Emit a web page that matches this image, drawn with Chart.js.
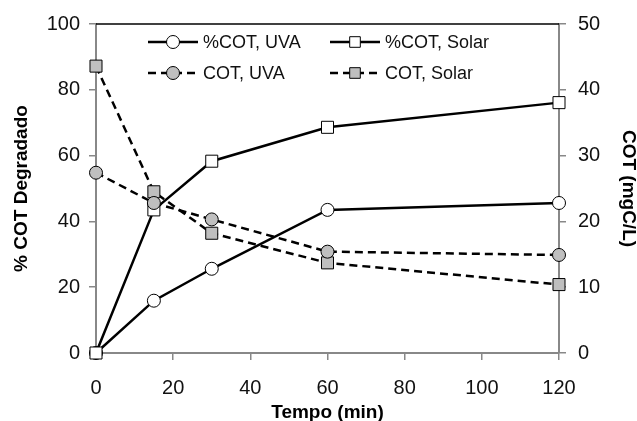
<!DOCTYPE html>
<html>
<head>
<meta charset="utf-8">
<title>COT Degradado</title>
<script src="https://cdn.jsdelivr.net/npm/chart.js@4.4.1/dist/chart.umd.min.js"></script>
<style>
  html, body { margin: 0; padding: 0; background: #fff; }
  #wrap { width: 637px; height: 421px; }
</style>
</head>
<body>
<div id="wrap"><canvas id="cotChart" width="637" height="421"></canvas></div>
<script>
// Data
const tempo = [0, 15, 30, 60, 120];
const pctCotUva = [0, 15.9, 25.6, 43.5, 45.6];
const pctCotSolar = [0, 43.5, 58.3, 68.6, 76.1];
const cotUva = [27.4, 22.8, 20.3, 15.4, 14.9];
const cotSolar = [43.6, 24.5, 18.2, 13.7, 10.4];

const xTicks = [0, 20, 40, 60, 80, 100, 120];
const leftTicks = [0, 20, 40, 60, 80, 100];
const rightTicks = [0, 10, 20, 30, 40, 50];

const FONT = "'Liberation Sans', Arial, sans-serif";
const AXIS_GRAY = '#888888';
const MARK_GRAY = '#bfbfbf';

function toPoints(values) {
    return tempo.map((t, i) => ({ x: t, y: values[i] }));
}

function makeDataset(label, values, axis, dashed, style, fill, order) {
    return {
        label: label,
        data: toPoints(values),
        yAxisID: axis,
        borderColor: '#000',
        borderWidth: 2.5,
        borderDash: dashed ? [8, 5] : [],
        pointStyle: style,
        pointRadius: style === 'rect' ? 8.5 : 6.5,
        pointBackgroundColor: fill,
        pointBorderColor: '#000',
        pointBorderWidth: 1,
        tension: 0,
        fill: false,
        clip: false,
        order: order
    };
}

// Top border of the plot area
const topBorder = {
    id: 'topBorder',
    beforeDatasetsDraw(chart) {
        const { ctx, chartArea } = chart;
        ctx.save();
        ctx.strokeStyle = '#000';
        ctx.lineWidth = 1.5;
        ctx.beginPath();
        ctx.moveTo(chartArea.left, chartArea.top);
        ctx.lineTo(chartArea.right, chartArea.top);
        ctx.stroke();
        ctx.restore();
    }
};

// Legend drawn as line + marker, 2 columns
const lineLegend = {
    id: 'lineLegend',
    afterDraw(chart) {
        const ctx = chart.ctx;
        const cols = [148, 330];
        const rows = [42, 73];
        const lineLen = 50;
        chart.data.datasets.forEach((ds, i) => {
            const x0 = cols[i % 2];
            const y = rows[Math.floor(i / 2)];
            ctx.save();
            ctx.strokeStyle = ds.borderColor;
            ctx.lineWidth = ds.borderWidth;
            ctx.setLineDash(ds.borderDash);
            ctx.beginPath();
            ctx.moveTo(x0, y);
            ctx.lineTo(x0 + lineLen, y);
            ctx.stroke();
            ctx.setLineDash([]);
            ctx.fillStyle = ds.pointBackgroundColor;
            ctx.strokeStyle = ds.pointBorderColor;
            ctx.lineWidth = 1;
            Chart.helpers.drawPoint(ctx, {
                pointStyle: ds.pointStyle,
                radius: ds.pointStyle === 'rect' ? 7.5 : 6.5,
                borderWidth: 1,
                rotation: 0
            }, x0 + lineLen / 2, y);
            ctx.fillStyle = '#111';
            ctx.font = '18px ' + FONT;
            ctx.textBaseline = 'middle';
            ctx.textAlign = 'left';
            ctx.fillText(ds.label, x0 + lineLen + 5, y + 1);
            ctx.restore();
        });
    }
};

const datasets = [
    makeDataset('%COT, UVA', pctCotUva, 'y', false, 'circle', '#fff', 3),
    makeDataset('%COT, Solar', pctCotSolar, 'y', false, 'rect', '#fff', 2),
    makeDataset('COT, UVA', cotUva, 'y1', true, 'circle', MARK_GRAY, 0),
    makeDataset('COT, Solar', cotSolar, 'y1', true, 'rect', MARK_GRAY, 1)
];

const tickFont = { family: FONT, size: 20 };
const titleFont = { family: FONT, size: 19, weight: 'bold' };

new Chart(document.getElementById('cotChart'), {
    type: 'line',
    data: { datasets: datasets },
    options: {
        responsive: false,
        animation: false,
        events: [],
        layout: { padding: { top: 22, left: 0, right: 0, bottom: 0 } },
        plugins: {
            legend: { display: false },
            tooltip: { enabled: false }
        },
        scales: {
            x: {
                type: 'linear',
                min: xTicks[0],
                max: xTicks[xTicks.length - 1],
                afterBuildTicks: (scale) => { scale.ticks = xTicks.map(v => ({ value: v })); },
                afterFit: (scale) => { scale.height = 68; },
                ticks: { font: tickFont, color: '#111', padding: 16, maxRotation: 0 },
                grid: { drawOnChartArea: false, drawTicks: true, tickLength: 7, color: AXIS_GRAY, lineWidth: 1.5 },
                border: { color: AXIS_GRAY, width: 2 },
                title: { display: true, text: 'Tempo (min)', font: titleFont, color: '#000', padding: { top: 0, bottom: -3 } }
            },
            y: {
                position: 'left',
                min: leftTicks[0],
                max: leftTicks[leftTicks.length - 1],
                afterBuildTicks: (scale) => { scale.ticks = leftTicks.map(v => ({ value: v })); },
                afterFit: (scale) => { scale.width = 96; },
                ticks: { font: tickFont, color: '#111', padding: 9 },
                grid: { drawOnChartArea: false, drawTicks: true, tickLength: 7, color: AXIS_GRAY, lineWidth: 1.5 },
                border: { color: AXIS_GRAY, width: 2 },
                title: { display: true, text: '% COT Degradado', font: titleFont, color: '#000', padding: { top: 10, bottom: 0 } }
            },
            y1: {
                position: 'right',
                min: rightTicks[0],
                max: rightTicks[rightTicks.length - 1],
                afterBuildTicks: (scale) => { scale.ticks = rightTicks.map(v => ({ value: v })); },
                afterFit: (scale) => { scale.width = 78; },
                ticks: { font: tickFont, color: '#111', padding: 12 },
                grid: { drawOnChartArea: false, drawTicks: true, tickLength: 7, color: AXIS_GRAY, lineWidth: 1.5 },
                border: { color: AXIS_GRAY, width: 2 },
                title: { display: true, text: 'COT (mgC/L)', font: titleFont, color: '#000', padding: { top: -3, bottom: 0 } }
            }
        }
    },
    plugins: [topBorder, lineLegend]
});
</script>
</body>
</html>
